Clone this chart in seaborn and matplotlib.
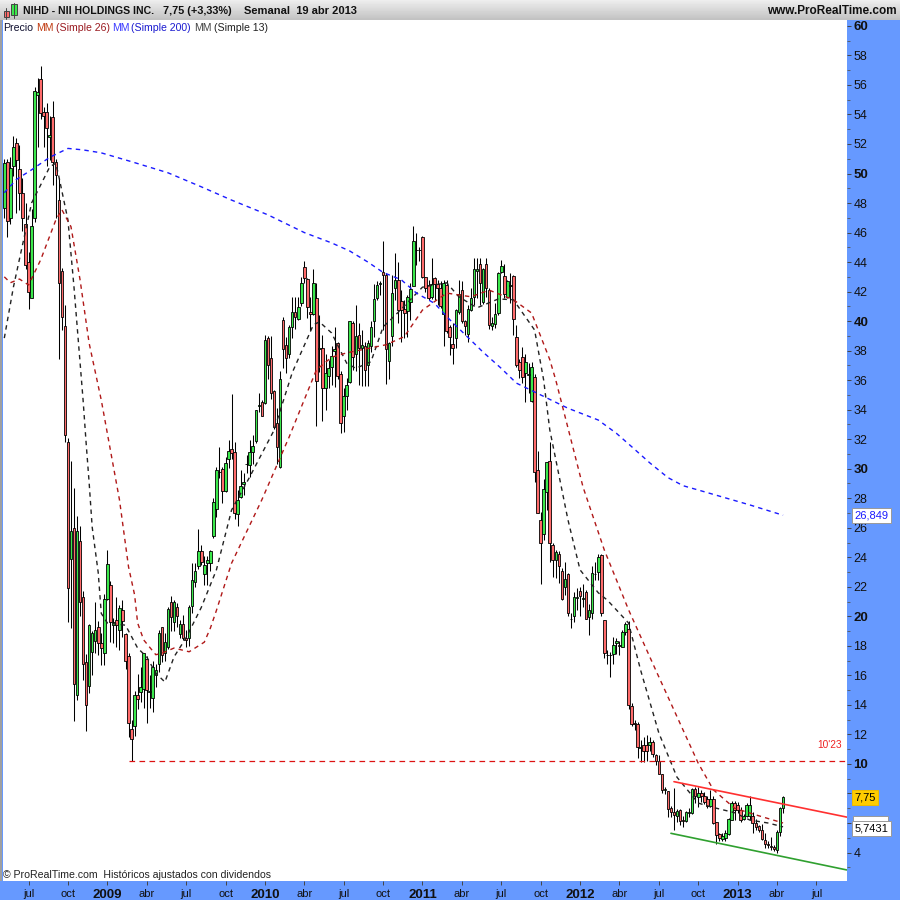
import numpy as np
import pandas as pd
import seaborn as sns
import matplotlib.pyplot as plt
from matplotlib.patches import Rectangle
from matplotlib.transforms import blended_transform_factory

# weekly candles
body_tops = [50.7,50.77,50.36,51.8,52.1,50.3,48.7,46.6,44,46.45,
 55.6,55.5,56.4,54.2,54.2,52.6,53.8,50.8,48.2,43.4,
 39.7,31.8,25.8,26,25.8,25.1,21.3,16.9,19.4,18.85,
 19.1,19.25,18.2,21.2,23.55,22.1,19.65,19.75,20.55,20.4,
 18.8,17.3,12.4,14.65,14.65,15.2,17.5,17.1,14.95,16.6,
 16.35,18.9,19.25,18.25,20.5,21,20.95,20.6,19.45,19.5,
 18.5,20.6,22.45,23.05,24.45,24.45,23.5,23.8,24.4,27.75,
 29.9,29.8,30,30.4,31.2,31.35,31.1,27.85,28.85,29.1,
 30.35,31.15,31.55,33.95,34.3,34.5,38.7,38.85,37.5,35.25,
 33.1,36.1,40.1,38.4,39.6,40.65,40.6,40.95,42.55,43.7,
 42.85,40.65,42.55,41.55,38.2,38.15,36.5,36.85,37.65,38.1,
 38.55,36.45,34.95,35.65,40,39.9,39,39.05,38.4,38.3,
 38.5,39.6,41.5,42.45,42.55,43.35,43.1,38.5,41.9,42.8,
 42.8,41.35,40.8,41.65,42.15,45.4,44.85,44.85,45.7,43,
 42.45,42.5,42.9,42.5,42.25,42.55,42.45,39.6,38.45,40.75,
 41.85,42.1,40,40.85,41.6,43.5,43.5,43.85,43.5,43.85,
 42.1,39.85,40.45,43.25,43.75,43.05,42.7,42.45,43.05,38.95,
 37.2,37.55,37.25,36.45,36.9,36.2,29.9,26.5,28.65,30.45,
 30.5,24.8,24.35,24.25,23.05,22.5,22.9,19.85,21.3,21.3,
 21.7,21.25,21.65,20.4,22.95,22.9,24,24.15,19.75,17.4,
 17.4,18.05,18.3,18.07,18.95,19.45,19.15,13.9,12.75,12.7,
 11.15,11.3,11.25,11.5,11.5,10.6,10.2,9.3,8.3,8.15,
 7,6.75,6.8,6.9,6.2,6.75,6.75,8.3,8.3,8.05,
 8,7.85,7.6,7.65,7.65,6.05,5.25,5.1,5.3,6.25,
 7.35,7.35,7.25,6.9,6.45,7.2,7.2,6.45,6,5.8,
 5.55,4.85,4.55,4.45,4.4,5.4,7,7.75]
body_bots = [47.65,46.8,47,50.5,50.9,48.7,47,43.8,42,41.6,
 47,55.35,54.1,53.9,53.1,52.5,50.8,49.9,42.6,40.3,
 32.3,21.9,23.9,15.4,14.7,21,16.75,14,15.3,17.6,
 18.35,18.2,17.85,17.5,21.15,19.6,19.4,19.4,19.1,19.7,
 17,12.75,11.7,12.6,14.4,14.9,15.05,15,14.85,14.5,
 16.05,16.8,17.35,17.5,17.9,19.93,19.65,20,18.8,18.55,
 18.4,18.5,20.7,22.35,23.4,23.65,22.9,23.6,23.6,25.45,
 27.3,29.75,28.5,28.5,30.65,31.05,27,26.9,28.1,28.95,
 30.3,30.25,31.15,31.9,34.25,33.6,34.45,37,35.1,32.8,
 31.45,30.1,38.1,37.5,37.8,39.6,40.25,40.15,41.2,42.9,
 40.95,40.5,40.5,35.95,38.1,35.5,35.45,36.3,36.9,38,
 36.25,33.1,33.6,34.9,35.85,37.55,37.8,38.15,38.2,36.7,
 37.05,38.3,40,41.6,42.5,43.1,38.1,37.3,39,42.25,
 40.75,40.75,40.55,40.7,41.3,42.4,44.8,44.8,43,42.25,
 41.6,41.65,42.5,42.25,41.05,40.45,39.35,38.9,38.2,38.85,
 40.6,40,39.65,39.1,40.75,41.65,43.4,42.55,41.3,42.25,
 39.75,39.65,39.8,40.55,43.35,41.85,41.65,42.35,40.15,37,
 36.7,36.2,36.5,36.35,34.6,29.76,27,24.95,25.6,28.4,
 25,23.85,23.85,23.4,21.2,22,20.2,19.8,20,21.25,
 21.4,21.2,19.85,19.95,20.2,22.85,23,20.2,17.5,17.35,
 17.35,17.45,18.2,18,17.95,18.95,14,12.7,12.7,11.15,
 11.1,10.9,10.85,11.25,10.7,10.2,9.35,8.25,8.25,6.95,
 6.75,6.55,6.5,6.15,6.15,6.15,6.7,6.7,7.8,7.75,
 7.8,7.45,7.15,7.15,6,5.2,4.95,4.9,4.95,5.25,
 6.2,6.85,6.9,6.2,6.3,6.45,6.5,6,5.75,5.5,
 4.9,4.55,4.5,4.35,4.25,4.15,5.4,7]
highs = [51,51,51.15,52.55,52.4,51.9,49.7,48,44.7,47.6,
 55.85,56.5,57.3,54.5,54.8,53.9,54.9,51,49.7,43.6,
 41.1,32.1,30.5,28.7,26.8,26.1,21.7,17.45,19.5,19,
 21,19.7,18.9,21.5,24.5,22.4,19.9,21.3,20.8,21.1,
 18.85,17.55,13,14.95,16.1,16.6,17.55,17.3,16,17,
 16.8,19.1,19.3,18.85,20.6,21.35,21.1,20.9,19.75,20.1,
 19.1,20.8,23.6,23.6,25.9,24.85,24.1,24.1,24.5,28,
 30.1,31.5,30.1,30.8,31.95,35.05,31.8,28.55,29.9,29.7,
 30.9,31.95,32.3,34,35.15,34.65,39.05,39,39,35.3,
 34.1,36.6,40.3,38.95,39.75,41.65,41.65,41.65,43,44.05,
 42.9,41.65,43.55,42.6,40.4,39.05,37.8,37.35,38.3,39.6,
 38.6,36.6,35.45,36.15,40,40,41.1,39.85,39.4,38.6,
 38.75,40,42.5,42.7,42.7,45.4,43.25,38.6,43.1,44.6,
 44,42.1,41.4,41.75,42.55,46.45,45.95,45,45.8,43,
 42.8,44.25,43,42.8,42.7,42.8,42.8,39.75,39.85,40.85,
 42.8,42.75,40.1,41.1,42.25,44.3,44.25,44.25,43.6,44.25,
 42.25,40.3,41.2,43.35,44.15,43.9,42.8,43.25,43.1,39.75,
 37.4,38.25,37.8,37.15,37.25,36.4,31.2,27.05,29.3,30.45,
 31.8,24.95,24.5,24.4,23.25,23.7,22.95,20.2,21.65,21.9,
 22,22.2,21.8,20.85,23.4,23.7,24.25,24.25,19.75,17.7,
 17.6,18.6,18.55,18.35,19.1,19.65,19.7,14.15,12.95,12.85,
 11.6,11.85,11.95,11.85,11.6,10.7,10.6,9.35,8.45,8.2,
 7.15,8.35,6.95,6.95,6.45,6.8,7,8.35,8.45,8.45,
 8.25,8.1,7.8,8.25,7.8,6.1,5.3,5.3,5.5,6.35,
 7.5,7.5,7.45,7.1,6.6,7.35,7.8,6.75,6.3,5.85,
 5.95,5.3,4.75,5.05,4.5,5.5,7.05,7.85]
lows = [47,45.7,46.6,49.8,47.3,47.5,46.1,43.5,40.8,41.6,
 46.7,51.8,53.7,51.8,50.5,50.9,49.2,47,37.4,39.4,
 31.8,19.65,19.2,12.9,14.3,20.05,15.7,12.2,14.8,16,
 17.5,17.4,16.7,16.7,21.1,18.25,18.2,17.95,17.7,18.6,
 16.4,11.85,10.2,11.9,13.7,14.2,13.8,12.8,13.8,13.5,
 15.2,16.25,16.9,17,17.8,19,19,19.3,18.5,18.4,
 17.95,18,20.2,22,23.2,23.5,22.1,22.1,23.1,25.3,
 26.7,29.35,27.7,28.45,30.05,30.65,26.6,26.15,28,28.25,
 29.7,29.45,30.35,31.75,33.85,33.6,34.4,36.1,34.75,32.7,
 30.35,30.05,36.85,36.5,37.5,38.85,39.5,40.05,41,42.55,
 40.2,39.3,40.4,32.9,36.55,33.2,34,35.45,35.7,35.55,
 36.1,32.45,32.5,34,35.8,36.7,36.6,35.7,35.6,35.6,
 35.6,37.9,38.95,41.4,41.8,39.4,35.75,36.1,38.3,41.4,
 39.85,38.6,38.85,38.95,40.1,42.35,43.8,44.1,42.9,42,
 41.4,41.5,41.4,41.1,40.9,38.3,39.2,37.7,37.1,38.15,
 40.45,39.85,39.05,38.6,40.7,41.1,41.55,41.1,41.15,41.65,
 39.5,39.4,39.55,40.4,43.25,41.55,41.55,41.2,39.05,36.9,
 36.15,35.8,34.55,35.1,34.55,29.1,27,22.2,25.15,27.2,
 23.7,22.65,22.6,22.25,21.1,21.45,20,19.2,19.65,20.45,
 20.05,20.65,19.8,18.75,19.8,22.45,22.45,20,17.2,16.8,
 15.9,16.75,17.45,17.4,17.9,18.75,13.7,12.55,12.3,10.4,
 10.15,10.15,10.2,10.85,10.5,9.95,9.3,8,7.95,6.4,
 6.4,5.55,6.1,5.85,5.75,6.1,6.4,6.6,7.35,7.1,
 7.45,7.3,7,7.05,5.95,4.6,4.75,4.8,4.8,5.2,
 6.2,6.2,6.65,6.1,6.2,6.4,6.2,5.35,5.5,5.4,
 4.85,4.3,4.3,4.2,4.1,4,5.1,6.7]
# g = up week, r = down week, ten weeks per string
directions = ("grggrrrrrg" "ggrrrgrrrr" "rrgrgrrrgg" "grrggrgrgr" "rrrgrggrgg"
              "ggrggrgrgr" "rggggrgggg" "ggrggrrggg" "gggggrgrrr" "rgrrggrggr"
              "rrgrgrgggg" "rrgggrgrgr" "gggggrrggg" "rrrgggggrr" "rgrrrgrrrg"
              "grrggggrgr" "rggggrggrr" "rrgggrrrgg" "rrgrrgrrgg" "rgrggggrrr"
              "gggrggrrrr" "grrgrrrrgr" "rrgrrgggrg" "rrrgrrrggg" "grrrgggrrr"
              "rrrrrggg")

# moving averages, sampled along the curves
ma200_weeks = [0,4,9,15,21,26,32,42,54,65,75,87,99,108,114,120,125,131,136,142,147,153,158,
               164,169,175,179,186,196,202,207,213,219,224,230,246,257]
ma200_vals = [48.7,49.6,50.25,51.1,51.7,51.6,51.4,50.8,50.05,49.1,48.2,47.2,46,45.3,44.75,44,
              43.3,42.8,41.9,41.2,40.1,38.9,37.9,36.8,35.8,35.2,34.8,34.1,33.3,32.4,31.5,30.4,
              29.4,28.85,28.5,27.55,26.85]
ma13_weeks = [0,3,9,15,17,18,21,23,26,27,28,29,31,32,34,40,44,47,50,53,56,60,65,70,75,81,89,95,
              102,104,108,113,116,121,125,130,138,146,150,156,163,168,175,178,180,186,190,196,
              199,206,210,216,222,229,233,241,246,252,257]
ma13_vals = [38.85,42.3,48,50.45,50.7,49.8,46.85,42.3,34.65,31.75,29.05,26.05,22.95,20.2,19.55,
             19.4,17.85,17.25,16.15,15.55,17.25,18.55,20.6,23.15,27.2,29.45,32.6,36.5,39.75,
             39.95,39.2,37.15,36.8,37.25,39.6,40.6,42.3,42.6,41.65,40.9,41.5,41.45,39.4,36,
             32.65,26.55,23.15,21.6,21.1,19.55,16.35,12.1,9.1,7.35,7.1,6.7,6.2,6,5.74]
ma26_weeks = [0,2,5,8,12,17,19,22,25,28,32,38,41,43,44,46,50,52,56,61,66,68,70,75,85,94,103,108,
              113,126,132,138,146,154,160,168,174,180,182,191,198,206,215,222,229,234,241,248,257]
ma26_vals = [43,42.6,42.85,42.45,44.15,46.85,47.55,46.4,42.8,38.5,34.65,27.9,23.35,21.45,19.55,
             18.4,17.4,17.5,17.85,17.6,18.25,19.2,20.4,23.6,27.9,32.15,36.7,37.55,37.85,38.4,
             38.95,40.75,41.9,41.65,42.1,41.45,40.55,37.4,36,28.75,24.5,20.45,16.35,13.2,10.05,
             8.25,7,6.55,6]

# hand drawn trend lines and resistance level
res_weeks = [221, 278]
res_vals = [8.8, 6.4]
sup_weeks = [220, 278]
sup_vals = [5.3, 2.82]
level_weeks = [41, 278]
level_vals = [10.2, 10.2]

# axis labels, 6 and 8 sit under the value boxes in the original
x_tick_weeks = [8,21,34,47,60,73,86,99,112,125,138,151,164,177,190,203,216,229,242,255,268]
x_tick_labels = ["jul","oct","2009","abr","jul","oct","2010","abr","jul","oct","2011","abr",
                 "jul","oct","2012","abr","jul","oct","2013","abr","jul"]
y_ticks = list(range(4, 61, 2))
y_tick_labels = ["" if t in (6, 8) else str(t) for t in y_ticks]

strip_blue = "#6699ff"
up_color = "#3be84c"
down_color = "#ff6b6b"

sns.set_style("white")
plt.rcParams["font.family"] = ["Liberation Sans", "DejaVu Sans"]

fig = plt.figure(figsize=(9, 9), dpi=100, facecolor=strip_blue)
# main chart area
ax = fig.add_axes([3 / 900, 19 / 900, 844 / 900, 861 / 900], facecolor="white")
for s in ax.spines.values():
    s.set_visible(False)

weeks = np.arange(len(highs))
fills = [up_color if d == "g" else down_color for d in directions]
ax.vlines(weeks, lows, highs, color="black", linewidth=0.75, zorder=2)
ax.bar(weeks, np.array(body_tops) - np.array(body_bots), bottom=body_bots, width=0.85,
       color=fills, edgecolor="black", linewidth=0.6, zorder=3)

# moving averages on top of the candles
ma_series = [(ma13_weeks, ma13_vals, "#222222"),
             (ma26_weeks, ma26_vals, "#b01818"),
             (ma200_weeks, ma200_vals, "#1a1aff")]
for w, v, col in ma_series:
    df = pd.DataFrame({"week": w, "value": v})
    sns.lineplot(data=df, x="week", y="value", color=col, linewidth=1.0, errorbar=None,
                 linestyle=(0, (3.2, 3.0)), ax=ax, zorder=4)

sns.lineplot(x=res_weeks, y=res_vals, color="#ff3030", linewidth=1.2, errorbar=None, ax=ax, zorder=5)
sns.lineplot(x=sup_weeks, y=sup_vals, color="#2fa02f", linewidth=1.2, errorbar=None, ax=ax, zorder=5)
sns.lineplot(x=level_weeks, y=level_vals, color="#dd1111", linewidth=0.9, errorbar=None,
             linestyle=(0, (4.5, 3.5)), ax=ax, zorder=5)

ax.set_xlim(-0.43, 278.1)
ax.set_ylim(2.07, 60.4)
ax.set_xlabel("")
ax.set_ylabel("")

ax.yaxis.tick_right()
ax.set_yticks(y_ticks)
ax.set_yticklabels(y_tick_labels)
ax.set_yticks(list(range(3, 61, 2)), minor=True)
ax.tick_params(axis="y", which="major", length=3, width=0.7, color="#444444", pad=1.5,
               labelsize=9, labelcolor="#111111", right=True)
ax.tick_params(axis="y", which="minor", length=2, width=0.6, color="#555555", right=True)
ax.set_xticks(x_tick_weeks)
ax.set_xticklabels(x_tick_labels)
ax.tick_params(axis="x", length=3, width=0.7, color="#444444", pad=3, labelsize=8,
               labelcolor="#111111", bottom=True)
for lab in ax.get_yticklabels():
    txt = lab.get_text()
    if txt and int(txt) % 10 == 0:
        lab.set_fontweight("bold")
        lab.set_fontsize(9.5)
for lab in ax.get_xticklabels():
    if lab.get_text().isdigit():
        lab.set_fontweight("bold")
        lab.set_fontsize(9.5)

# level label and the value boxes on the price strip
tr = blended_transform_factory(ax.transAxes, ax.transData)
ax.text(827 / 844, 11.28, "10'23", color="#ee2222", fontsize=7.3, ha="center", va="center",
        transform=tr, zorder=6)
box_x = 851.5 / 844
ax.add_patch(Rectangle((box_x - 1.5 / 844, 5.6), 35 / 844, 0.85, transform=tr, fc="white", ec="#999999",
                       lw=0.7, clip_on=False, zorder=7))
ax.text(box_x, 5.6, "5,7431", color="black", fontsize=8, va="center", ha="left", transform=tr, zorder=8,
        bbox=dict(boxstyle="square,pad=0.22", fc="white", ec="#999999", lw=0.7))
ax.text(box_x, 7.75, "7,75", color="black", fontsize=8, va="center", ha="left", transform=tr, zorder=8,
        bbox=dict(boxstyle="square,pad=0.22", fc="#ffcc00", ec="#eebb00", lw=0.7))
ax.text(box_x, 26.849, "26,849", color="#1a1aff", fontsize=8, va="center", ha="left", transform=tr, zorder=8,
        bbox=dict(boxstyle="square,pad=0.22", fc="white", ec="#999999", lw=0.7))

# legend row
legend_bits = [(3, "Precio", "#101030"), (36, "MM", "#c03a10"), (56, "(Simple 26)", "#9a1a20"),
               (112, "MM", "#3a3aff"), (131, "(Simple 200)", "#1a1ad0"),
               (194, "MM", "#444444"), (214, "(Simple 13)", "#222222")]
for px, txt, col in legend_bits:
    fig.text(px / 900, 1 - 28 / 900, txt, color=col, fontsize=7.6, va="center", ha="left")
fig.text(3 / 900, 1 - 875 / 900, "© ProRealTime.com  Históricos ajustados con dividendos",
         color="#222222", fontsize=7.6, va="center", ha="left")

# grey header bar with gradient
head = fig.add_axes([0, 880 / 900, 1, 20 / 900])
head.imshow(np.linspace(0.93, 0.76, 20).reshape(-1, 1), cmap="gray", vmin=0, vmax=1, aspect="auto",
            extent=[0, 900, 20, 0])
head.set_xlim(0, 900)
head.set_ylim(20, 0)
head.axis("off")
head.add_patch(Rectangle((3.5, 10.5), 5.5, 6, fc=down_color, ec="#444444", lw=0.7))
head.plot([6.2, 6.2], [8, 18.5], color="#444444", lw=0.7)
head.add_patch(Rectangle((11, 4), 6, 10.5, fc=up_color, ec="#444444", lw=0.7))
head.plot([14, 14], [2.5, 18], color="#444444", lw=0.7)
head.text(23, 10.5, "NIHD - NII HOLDINGS INC.", fontsize=7.55, fontweight="bold", color="#111111", va="center")
head.text(163, 10.5, "7,75 (+3,33%)", fontsize=7.8, fontweight="bold", color="#111111", va="center")
head.text(244, 10.5, "Semanal  19 abr 2013", fontsize=8, fontweight="bold", color="#111111", va="center")
head.text(897, 10.5, "www.ProRealTime.com", fontsize=8.5, fontweight="bold", color="#111111", va="center", ha="right")

# thin grey border down the left side
fig.add_artist(Rectangle((0, 19 / 900), 2 / 900, 861 / 900, fc="#a0a0a0", ec="none", transform=fig.transFigure))

plt.savefig("out.png", dpi=100, facecolor=fig.get_facecolor())
